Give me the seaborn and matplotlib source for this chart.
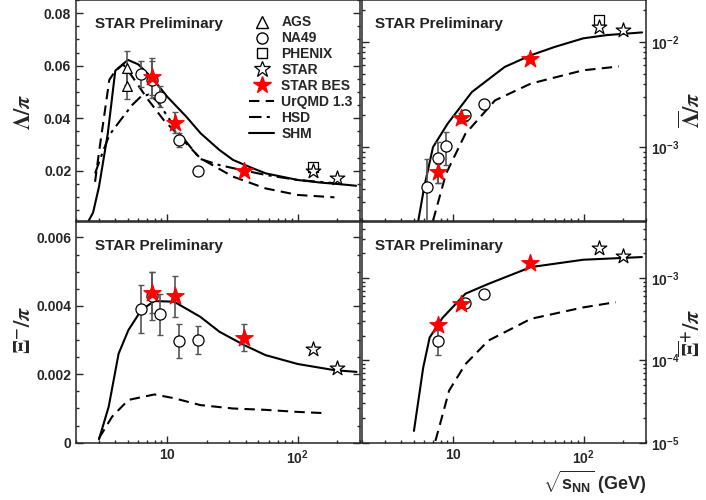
import numpy as np
import pandas as pd
import matplotlib
matplotlib.use("Agg")
import matplotlib.pyplot as plt
import seaborn as sns
from matplotlib.lines import Line2D
from matplotlib.ticker import FixedLocator, LogLocator, MultipleLocator, NullFormatter, FuncFormatter

# ---- data: Lambda/pi (top-left) ----
x_ags = [4.9, 4.9]
lam_ags = [0.0590, 0.0523]
lam_ags_err = [0.0065, 0.0050]

x_na49 = [6.3, 7.6, 8.8, 12.3, 17.3]
lam_na49 = [0.0569, 0.0546, 0.0482, 0.0317, 0.0200]
lam_na49_err = [0.0050, 0.0070, 0.0040, 0.0025, 0.0010]

x_bes = [7.7, 11.5, 39.0]
lam_bes = [0.0558, 0.0383, 0.0200]
lam_bes_err = [0.0070, 0.0040, 0.0015]

x_phenix = [130.0]
lam_phenix = [0.0216]

x_star = [130.0, 200.0]
lam_star = [0.0200, 0.0171]

shm_lam_x = [2.5, 2.7, 3.0, 3.5, 4.0, 5.0, 6.0, 7.7, 10, 14, 18, 25, 32, 45, 57, 80, 100, 150, 200, 280]
shm_lam = [0.0010, 0.0040, 0.0139, 0.0340, 0.0581, 0.0622, 0.0605, 0.0552, 0.0482, 0.0406,
           0.0343, 0.0280, 0.0241, 0.0210, 0.0190, 0.0175, 0.0165, 0.0155, 0.0150, 0.0143]
urqmd_lam_x = [2.8, 3.0, 3.6, 4.0, 4.6, 5.4, 6.1, 7.0, 9.4, 11.8, 17.9, 31.8, 56.6, 100, 191]
urqmd_lam = [0.0158, 0.0270, 0.0546, 0.0580, 0.0605, 0.0558, 0.0520, 0.0476, 0.0393, 0.0343,
             0.0248, 0.0178, 0.0133, 0.0108, 0.0099]
hsd_lam_x = [2.8, 3.2, 3.6, 4.5, 5.4, 6.3, 7.2, 8.4, 11.8, 17.9, 25, 32, 57, 100, 200]
hsd_lam = [0.0190, 0.0270, 0.0336, 0.0400, 0.0451, 0.0483, 0.0490, 0.0465, 0.0355, 0.0245,
           0.0222, 0.0210, 0.0184, 0.0165, 0.0152]

# ---- data: anti-Lambda/pi (top-right) ----
alam_na49 = [4.16e-4, 7.9e-4, 1.03e-3, 2.02e-3, 2.55e-3]
alam_na49_err = [3.6e-4, 3.3e-4, 3.5e-4, 2.5e-4, 2.5e-4]
alam_bes = [5.78e-4, 1.90e-3, 6.95e-3]
alam_bes_err = [1.2e-4, 2.0e-4, 5.0e-4]
alam_phenix = [0.0161]
alam_star = [0.0139, 0.0131]

shm_alam_x = [5.4, 6.0, 7.0, 9.06, 13.9, 24.8, 39.4, 60, 98.9, 150, 280]
shm_alam = [2.0e-4, 4.2e-4, 1.0e-3, 1.67e-3, 3.34e-3, 5.78e-3, 7.47e-3, 8.96e-3, 0.0108, 0.0116, 0.0123]
urqmd_alam_x = [7.0, 8.8, 12.4, 20.9, 39.4, 98.9, 186]
urqmd_alam = [2.0e-4, 5.58e-4, 1.34e-3, 2.78e-3, 4.02e-3, 5.37e-3, 5.84e-3]

# ---- data: Xi-/pi (bottom-left) ----
xi_na49 = [0.00392, 0.00428, 0.00375, 0.00298, 0.00300]
xi_na49_err = [0.0007, 0.0007, 0.0006, 0.0005, 0.0004]
xi_bes = [0.00438, 0.00428, 0.00307]
xi_bes_err = [0.0006, 0.0006, 0.0004]
xi_star = [0.00273, 0.00219]

shm_xi_x = [3.0, 3.56, 4.24, 5.04, 6.34, 7.98, 11.3, 17.9, 25.2, 39, 56.6, 100, 191, 282]
shm_xi = [0.0001, 0.00105, 0.0026, 0.00329, 0.00388, 0.00414, 0.00412, 0.00368, 0.00324,
          0.00285, 0.00256, 0.0023, 0.00212, 0.00207]
urqmd_xi_x = [3.0, 3.78, 5.04, 7.98, 11.3, 17.9, 31.8, 56.6, 100, 169]
urqmd_xi = [0.00013, 0.00076, 0.00125, 0.00141, 0.0013, 0.0011, 0.0010, 0.00096, 0.0009, 0.00086]

# ---- data: anti-Xi+/pi (bottom-right) ----
x_na49_axi = [7.6, 12.3, 17.3]
axi_na49 = [1.74e-4, 4.95e-4, 6.46e-4]
axi_na49_err = [5.7e-5, 3.0e-5, 3.0e-5]
axi_bes = [2.72e-4, 4.87e-4, 1.52e-3]
axi_bes_err = [3.0e-5, 4.0e-5, 1.0e-4]
axi_star = [2.29e-3, 1.84e-3]

shm_axi_x = [5.0, 5.89, 6.6, 8.3, 12.4, 18.6, 39.4, 99, 279]
shm_axi = [1.39e-5, 8.2e-5, 1.9e-4, 3.3e-4, 6.46e-4, 8.5e-4, 1.36e-3, 1.67e-3, 1.8e-3]
urqmd_axi_x = [7.3, 8.3, 9.3, 12.4, 18.6, 39.4, 99, 176]
urqmd_axi = [1.05e-5, 2.2e-5, 4.3e-5, 9.0e-5, 1.74e-4, 3.2e-4, 4.4e-4, 5.1e-4]

# ---- style ----
sns.set_style("ticks")
plt.rcParams['font.family'] = ['Liberation Sans', 'DejaVu Sans']
plt.rcParams['font.weight'] = 'bold'
plt.rcParams['mathtext.fontset'] = 'custom'
plt.rcParams['mathtext.rm'] = 'Liberation Sans:bold'
plt.rcParams['mathtext.bf'] = 'Liberation Sans:bold'
plt.rcParams['mathtext.it'] = 'Liberation Sans:bold:italic'

DASH = (0, (5, 3))
DASHDOT = (0, (6, 2.5, 1.5, 2.5))
ECOL = '#555555'

fig = plt.figure(figsize=(7.06, 5.0), dpi=100)
W, H = 284 / 706, 220.7 / 500
ax_tl = fig.add_axes([76 / 706, 1 - 220.7 / 500, W, H])
ax_tr = fig.add_axes([362 / 706, 1 - 220.7 / 500, W, H])
ax_bl = fig.add_axes([76 / 706, 1 - 442.7 / 500, W, H])
ax_br = fig.add_axes([362 / 706, 1 - 442.7 / 500, W, H])


def model(ax, x, y, ls):
    sns.lineplot(x=x, y=y, ax=ax, color='black', linestyle=ls, lw=1.5, sort=False, zorder=2)


def points(ax, x, y, err, marker, size, face, edge='black'):
    if err is not None:
        ax.errorbar(x, y, yerr=err, fmt='none', ecolor=ECOL, elinewidth=1.2,
                    capsize=2, capthick=1.0, zorder=3)
    sns.scatterplot(x=x, y=y, ax=ax, marker=marker, s=size ** 2, color=face,
                    edgecolor=edge, linewidth=0.9, zorder=4, legend=False)


def dec_fmt(v, pos):
    return r'$\mathbf{10^{%d}}$' % int(round(np.log10(v)))


# top-left
model(ax_tl, hsd_lam_x, hsd_lam, DASHDOT)
model(ax_tl, urqmd_lam_x, urqmd_lam, DASH)
model(ax_tl, shm_lam_x, shm_lam, '-')
points(ax_tl, x_ags, lam_ags, lam_ags_err, '^', 7, 'white')
points(ax_tl, x_na49, lam_na49, lam_na49_err, 'o', 8, 'white')
points(ax_tl, x_phenix, lam_phenix, None, 's', 7, 'white')
points(ax_tl, x_star, lam_star, None, '*', 11, 'white')
points(ax_tl, x_bes, lam_bes, lam_bes_err, '*', 13, 'red', 'red')

# top-right
model(ax_tr, urqmd_alam_x, urqmd_alam, DASH)
model(ax_tr, shm_alam_x, shm_alam, '-')
points(ax_tr, x_na49, alam_na49, alam_na49_err, 'o', 8, 'white')
points(ax_tr, x_phenix, alam_phenix, None, 's', 7, 'white')
points(ax_tr, x_star, alam_star, None, '*', 11, 'white')
points(ax_tr, x_bes, alam_bes, alam_bes_err, '*', 13, 'red', 'red')

# bottom-left
model(ax_bl, urqmd_xi_x, urqmd_xi, DASH)
model(ax_bl, shm_xi_x, shm_xi, '-')
points(ax_bl, x_na49, xi_na49, xi_na49_err, 'o', 8, 'white')
points(ax_bl, x_star, xi_star, None, '*', 11, 'white')
points(ax_bl, x_bes, xi_bes, xi_bes_err, '*', 13, 'red', 'red')

# bottom-right
model(ax_br, urqmd_axi_x, urqmd_axi, DASH)
model(ax_br, shm_axi_x, shm_axi, '-')
points(ax_br, x_na49_axi, axi_na49, axi_na49_err, 'o', 8, 'white')
points(ax_br, x_star, axi_star, None, '*', 11, 'white')
points(ax_br, x_bes, axi_bes, axi_bes_err, '*', 13, 'red', 'red')

# axes setup
for ax in (ax_tl, ax_tr, ax_bl, ax_br):
    ax.set_xscale('log')
    ax.set_xlim(2.0, 300)
    ax.set_xlabel('')
    ax.set_ylabel('')
    ax.xaxis.set_major_locator(FixedLocator([10, 100]))
    ax.xaxis.set_minor_locator(LogLocator(base=10, subs=np.arange(2, 10), numticks=20))
    ax.xaxis.set_minor_formatter(NullFormatter())
    for s in ax.spines.values():
        s.set_linewidth(1.1)
        s.set_visible(True)
    ax.tick_params(which='both', direction='in', width=1.0, labelsize=10,
                   left=True, right=True, top=False, bottom=True)
    ax.tick_params(which='major', length=5)
    ax.tick_params(which='minor', length=2.5)
    ax.text(0.067 if ax in (ax_tl, ax_bl) else 0.047, 0.893, 'STAR Preliminary',
            transform=ax.transAxes, fontsize=11, fontweight='bold', color='#222222',
            va='center', ha='left')

for ax in (ax_tl, ax_tr):
    ax.set_xticklabels([])
for ax in (ax_bl, ax_br):
    ax.set_xticklabels([r'$\mathbf{10}$', r'$\mathbf{10^{2}}$'])
    ax.tick_params(axis='x', pad=4)

ax_tl.set_ylim(0.001, 0.085)
ax_tl.set_yticks([0.02, 0.04, 0.06, 0.08])
ax_tl.set_yticklabels(['0.02', '0.04', '0.06', '0.08'])
ax_tl.yaxis.set_minor_locator(MultipleLocator(0.005))
ax_tl.tick_params(axis='y', labelright=False)

ax_bl.set_ylim(0, 0.00645)
ax_bl.set_yticks([0, 0.002, 0.004, 0.006])
ax_bl.set_yticklabels(['0', '0.002', '0.004', '0.006'])
ax_bl.yaxis.set_minor_locator(MultipleLocator(0.0005))
ax_bl.tick_params(axis='y', labelright=False)

ax_tr.set_yscale('log')
ax_tr.set_ylim(2.0e-4, 0.025)
ax_br.set_yscale('log')
ax_br.set_ylim(1.0e-5, 4.8e-3)
for ax in (ax_tr, ax_br):
    ax.yaxis.set_major_locator(LogLocator(base=10, numticks=10))
    ax.yaxis.set_minor_locator(LogLocator(base=10, subs=np.arange(2, 10), numticks=20))
    ax.yaxis.set_major_formatter(FuncFormatter(dec_fmt))
    ax.yaxis.set_minor_formatter(NullFormatter())
    ax.tick_params(axis='y', which='both', labelleft=False, labelright=True)

# legend in top-left panel
handles = [
    Line2D([], [], ls='none', marker='^', ms=8, mfc='white', mec='black'),
    Line2D([], [], ls='none', marker='o', ms=8, mfc='white', mec='black'),
    Line2D([], [], ls='none', marker='s', ms=7.5, mfc='white', mec='black'),
    Line2D([], [], ls='none', marker='*', ms=12, mfc='white', mec='black', mew=0.9),
    Line2D([], [], ls='none', marker='*', ms=13, mfc='red', mec='red'),
    Line2D([], [], color='black', ls=DASH, lw=1.5),
    Line2D([], [], color='black', ls=DASHDOT, lw=1.5),
    Line2D([], [], color='black', ls='-', lw=1.5),
]
labels = ['AGS', 'NA49', 'PHENIX', 'STAR', 'STAR BES', 'UrQMD 1.3', 'HSD', 'SHM']
ax_tl.legend(handles, labels, loc='upper left', bbox_to_anchor=(0.61, 0.93),
             frameon=False, labelspacing=0.14, handlelength=1.8,
             handletextpad=0.5, borderpad=0, borderaxespad=0,
             prop={'weight': 'bold', 'size': 10})

# axis titles
fig.text(25 / 706, 1 - 112 / 500, r'$\Lambda/\pi$', rotation=90, ha='center', va='center',
         fontsize=16, fontweight='normal', math_fontfamily='stix')
fig.text(25 / 706, 1 - 330 / 500, r'$\Xi^{-}/\pi$', rotation=90, ha='center', va='center',
         fontsize=16, fontweight='normal', math_fontfamily='stix')
fig.text(692 / 706, 1 - 110 / 500, r'$\overline{\Lambda}/\pi$', rotation=90, ha='center',
         va='center', fontsize=16, fontweight='normal', math_fontfamily='stix')
fig.text(692 / 706, 1 - 333 / 500, r'$\overline{\Xi}^{+}/\pi$', rotation=90, ha='center',
         va='center', fontsize=16, fontweight='normal', math_fontfamily='stix')
fig.text(646 / 706, 1 - 482 / 500, r'$\mathbf{\sqrt{s_{NN}}}$ (GeV)', ha='right', va='center',
         fontsize=13, fontweight='bold')

fig.savefig('out.png', dpi=100)
